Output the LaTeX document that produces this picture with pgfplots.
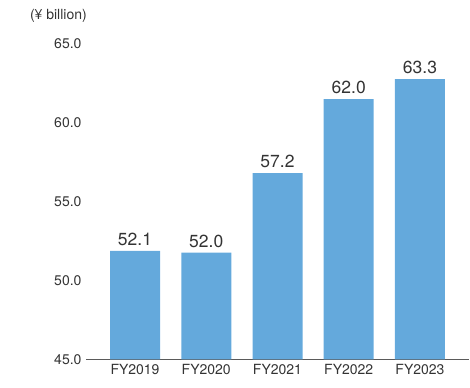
\documentclass[border=0pt]{standalone}
\usepackage{fontspec}
\setmainfont{TeX Gyre Heros}
\usepackage{pgfplots}
\pgfplotsset{compat=1.18}
\definecolor{barblue}{HTML}{64A9DC}
\definecolor{txt}{HTML}{333333}
\definecolor{axisgray}{HTML}{5A5A5A}
\begin{document}
\begin{tikzpicture}
\begin{axis}[
  at={(86bp,28.5bp)}, anchor=south west,
  scale only axis,
  width=383bp, height=315.5bp,
  xmin=-0.688, xmax=4.688,
  ymin=45, ymax=65,
  ytick={45,50,55,60,65},
  xtick={0,1,2,3,4},
  xticklabels={FY2019,FY2020,FY2021,FY2022,FY2023},
  axis x line=bottom,
  axis y line=left,
  x axis line style={-, axisgray, line width=1pt},
  y axis line style={draw=none},
  major tick length=0pt,
  tick style={draw=none},
  /pgf/number format/assume math mode=true,
  /pgf/number format/.cd, fixed, fixed zerofill, precision=1, /pgfplots/.cd,
  yticklabel style={font=\fontsize{14bp}{16bp}\selectfont, text=txt, anchor=east, xshift=-1bp},
  xticklabel style={font=\fontsize{14bp}{16bp}\selectfont, text=txt, anchor=center, yshift=-10bp},
  clip=false,
]
\addplot[ybar, bar width=50bp, fill=barblue, draw=none,
  point meta=explicit symbolic,
  nodes near coords,
  nodes near coords style={font=\fontsize{17.5bp}{20bp}\selectfont, text=txt, anchor=south, inner sep=0pt, yshift=5bp},
] table[meta=label] {
x y label
0 51.88 52.1
1 51.77 52.0
2 56.82 57.2
3 61.51 62.0
4 62.78 63.3
};
\node[anchor=east, font=\fontsize{14bp}{16bp}\selectfont, text=txt, inner sep=0pt] at ([xshift=1bp,yshift=28bp]rel axis cs:0,1) {(¥ billion)};
\end{axis}
\pgfresetboundingbox
\path[use as bounding box] (0,0) rectangle (470bp,388bp);
\end{tikzpicture}
\end{document}
